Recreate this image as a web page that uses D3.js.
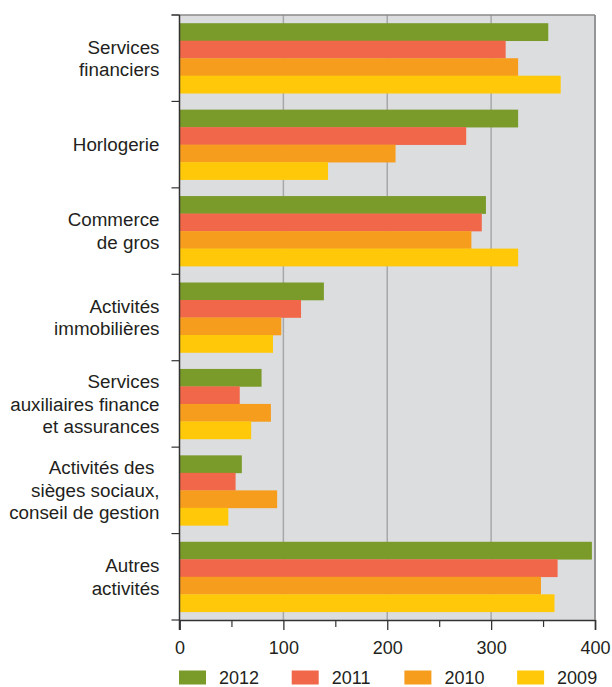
<!DOCTYPE html>
<html>
<head>
<meta charset="utf-8">
<script src="https://cdn.jsdelivr.net/npm/d3@7"></script>
<style>
  body { margin: 0; background: #fff; }
  text { font-family: "Liberation Sans", Arial, sans-serif; fill: #231f20; }
</style>
</head>
<body>
<div id="chart"></div>
<script>
// categories (each label split into lines)
const categories = [
    ["Services", "financiers"],
    ["Horlogerie"],
    ["Commerce", "de gros"],
    ["Activités", "immobilières"],
    ["Services", "auxiliaires finance", "et assurances"],
    ["Activités des ", "sièges sociaux,", "conseil de gestion"],
    ["Autres", "activités"]
];
const years = ["2012", "2011", "2010", "2009"];
const values2012 = [355, 326, 295, 139, 79, 60, 397];
const values2011 = [314, 276, 291, 117, 58, 54, 364];
const values2010 = [326, 208, 281, 98, 88, 94, 348];
const values2009 = [367, 143, 326, 90, 69, 47, 361];
const xTicks = [0, 100, 200, 300, 400];
const xMinorTicks = [50, 150, 250, 350];

const colors = ["#7a9a2a", "#f0674a", "#f79d1e", "#ffc90a"];
const series = [values2012, values2011, values2010, values2009];

const W = 612, H = 687;
const margin = { top: 15, left: 179.5 };
const width = 415.5, height = 605;

const svg = d3.select("#chart").append("svg")
    .attr("width", W)
    .attr("height", H);

const g = svg.append("g").attr("transform", `translate(${margin.left},${margin.top})`);

const keys = categories.map((c, i) => i);

const x = d3.scaleLinear().domain([0, 400]).range([0, width]);
const y = d3.scaleBand().domain(keys).range([0, height])
    .paddingInner(0.19).paddingOuter(0.095);
const ySub = d3.scaleBand().domain(years).range([0, y.bandwidth()]);

// plot background
g.append("rect")
    .attr("width", width)
    .attr("height", height)
    .attr("fill", "#dcdddf");

// gridlines
g.selectAll(".grid")
    .data(xTicks.slice(1))
    .enter().append("line")
    .attr("x1", d => x(d)).attr("x2", d => x(d))
    .attr("y1", 0).attr("y2", height)
    .attr("stroke", "#a7a8aa")
    .attr("stroke-width", 1.5);

// top border
g.append("line")
    .attr("x1", -8).attr("x2", width)
    .attr("y1", 0).attr("y2", 0)
    .attr("stroke", "#8a8a8a")
    .attr("stroke-width", 1.5);

// bars
keys.forEach(i => {
    const grp = g.append("g").attr("transform", `translate(0,${y(i)})`);
    years.forEach((yr, s) => {
        grp.append("rect")
            .attr("x", 0)
            .attr("y", ySub(yr))
            .attr("width", x(series[s][i]))
            .attr("height", ySub.bandwidth() + 0.3)
            .attr("fill", colors[s]);
    });
});

// left axis with ticks at category boundaries
const step = y.step();
const bounds = d3.range(keys.length + 1).map(k => k * step);
g.selectAll(".ytick")
    .data(bounds)
    .enter().append("line")
    .attr("x1", -8).attr("x2", 0)
    .attr("y1", d => d).attr("y2", d => d)
    .attr("stroke", "#333")
    .attr("stroke-width", 1.2);
g.append("line")
    .attr("x1", 0).attr("x2", 0)
    .attr("y1", 0).attr("y2", height + 10)
    .attr("stroke", "#333")
    .attr("stroke-width", 1.5);

// category labels
keys.forEach(i => {
    const lines = categories[i];
    const cy = y(i) + y.bandwidth() / 2;
    const lh = 22.5;
    const t = g.append("text")
        .attr("text-anchor", "end")
        .style("font-size", "18.8px")
        .style("white-space", "pre");
    lines.forEach((ln, j) => {
        t.append("tspan")
            .attr("x", -20)
            .attr("y", cy + (j - (lines.length - 1) / 2) * lh)
            .attr("dy", "0.35em")
            .text(ln);
    });
});

// bottom axis
const xAxis = g.append("g")
    .attr("transform", `translate(0,${height})`)
    .call(d3.axisBottom(x).tickValues(xTicks).tickSize(10).tickPadding(11));
xAxis.select(".domain").attr("stroke", "#333").attr("stroke-width", 1.5);
xAxis.selectAll(".tick line").attr("stroke", "#333").attr("stroke-width", 1.3);
xAxis.selectAll(".tick text")
    .style("font-size", "18px")
    .attr("fill", "#231f20")
    .attr("font-family", "Liberation Sans, Arial, sans-serif");

const xMinor = g.append("g")
    .attr("transform", `translate(0,${height})`)
    .call(d3.axisBottom(x).tickValues(xMinorTicks).tickSize(7).tickFormat(""));
xMinor.select(".domain").remove();
xMinor.selectAll(".tick line").attr("stroke", "#333").attr("stroke-width", 1.2);

// right border
g.append("line")
    .attr("x1", width).attr("x2", width)
    .attr("y1", 0).attr("y2", height)
    .attr("stroke", "#8a8a8a")
    .attr("stroke-width", 1.5);

// legend
const legend = svg.append("g").attr("transform", "translate(179,670.5)");
years.forEach((yr, s) => {
    const lg = legend.append("g").attr("transform", `translate(${s * 112.7},0)`);
    lg.append("rect")
        .attr("width", 27)
        .attr("height", 14)
        .attr("fill", colors[s]);
    lg.append("text")
        .attr("x", 40)
        .attr("y", 13.5)
        .style("font-size", "18px")
        .text(yr);
});
</script>
</body>
</html>
